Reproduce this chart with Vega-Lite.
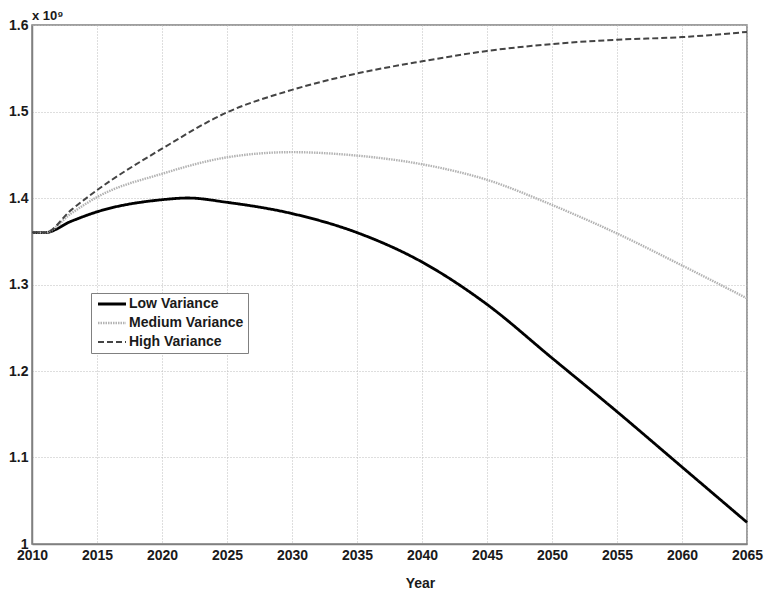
{
  "$schema": "https://vega.github.io/schema/vega-lite/v6.json",
  "width": 715,
  "height": 519,
  "autosize": {"type": "none"},
  "padding": {"left": 32, "top": 25, "right": 17, "bottom": 46},
  "background": "white",
  "config": {
    "font": "Liberation Sans",
    "view": {"stroke": "#808080", "strokeWidth": 1.5},
    "axis": {
      "labelFont": "Liberation Sans",
      "labelFontWeight": "bold",
      "labelFontSize": 14,
      "labelColor": "#1a1a1a",
      "titleFont": "Liberation Sans",
      "titleFontWeight": "bold",
      "titleFontSize": 14,
      "titleColor": "#1a1a1a",
      "domainColor": "#808080",
      "domainWidth": 1.5,
      "tickColor": "#808080",
      "tickSize": 0,
      "gridColor": "#bdbdbd",
      "gridDash": [1, 2],
      "gridWidth": 1
    }
  },
  "title": {
    "text": "x 10⁹",
    "anchor": "start",
    "frame": "group",
    "font": "Liberation Sans",
    "fontSize": 13,
    "fontWeight": "bold",
    "color": "#1a1a1a",
    "offset": -5
  },
  "data": {
    "values": [
      {"year": 2010, "series": "Low Variance", "population": 1.36},
      {"year": 2011, "series": "Low Variance", "population": 1.36},
      {"year": 2013, "series": "Low Variance", "population": 1.373},
      {"year": 2015, "series": "Low Variance", "population": 1.384},
      {"year": 2020, "series": "Low Variance", "population": 1.398},
      {"year": 2022, "series": "Low Variance", "population": 1.4},
      {"year": 2025, "series": "Low Variance", "population": 1.395},
      {"year": 2030, "series": "Low Variance", "population": 1.382},
      {"year": 2035, "series": "Low Variance", "population": 1.36},
      {"year": 2040, "series": "Low Variance", "population": 1.326},
      {"year": 2045, "series": "Low Variance", "population": 1.277},
      {"year": 2050, "series": "Low Variance", "population": 1.215},
      {"year": 2055, "series": "Low Variance", "population": 1.153},
      {"year": 2060, "series": "Low Variance", "population": 1.089},
      {"year": 2065, "series": "Low Variance", "population": 1.025},
      {"year": 2010, "series": "Medium Variance", "population": 1.36},
      {"year": 2011, "series": "Medium Variance", "population": 1.36},
      {"year": 2013, "series": "Medium Variance", "population": 1.382},
      {"year": 2015, "series": "Medium Variance", "population": 1.401},
      {"year": 2020, "series": "Medium Variance", "population": 1.428},
      {"year": 2025, "series": "Medium Variance", "population": 1.447},
      {"year": 2030, "series": "Medium Variance", "population": 1.453},
      {"year": 2035, "series": "Medium Variance", "population": 1.449},
      {"year": 2040, "series": "Medium Variance", "population": 1.439},
      {"year": 2045, "series": "Medium Variance", "population": 1.421},
      {"year": 2050, "series": "Medium Variance", "population": 1.392},
      {"year": 2055, "series": "Medium Variance", "population": 1.359},
      {"year": 2060, "series": "Medium Variance", "population": 1.322},
      {"year": 2065, "series": "Medium Variance", "population": 1.284},
      {"year": 2010, "series": "High Variance", "population": 1.36},
      {"year": 2011, "series": "High Variance", "population": 1.36},
      {"year": 2013, "series": "High Variance", "population": 1.386},
      {"year": 2015, "series": "High Variance", "population": 1.409},
      {"year": 2020, "series": "High Variance", "population": 1.457},
      {"year": 2025, "series": "High Variance", "population": 1.499},
      {"year": 2030, "series": "High Variance", "population": 1.525},
      {"year": 2035, "series": "High Variance", "population": 1.544},
      {"year": 2040, "series": "High Variance", "population": 1.558},
      {"year": 2045, "series": "High Variance", "population": 1.57},
      {"year": 2050, "series": "High Variance", "population": 1.578},
      {"year": 2055, "series": "High Variance", "population": 1.583},
      {"year": 2060, "series": "High Variance", "population": 1.586},
      {"year": 2065, "series": "High Variance", "population": 1.592}
    ]
  },
  "mark": {"type": "line", "interpolate": "monotone"},
  "encoding": {
    "x": {
      "field": "year",
      "type": "quantitative",
      "scale": {"domain": [2010, 2065], "nice": false, "zero": false},
      "axis": {
        "values": [2010, 2015, 2020, 2025, 2030, 2035, 2040, 2045, 2050, 2055, 2060, 2065],
        "format": "d",
        "title": "Year",
        "labelPadding": 4,
        "titleX": 388,
        "titleY": 43,
        "titleBaseline": "alphabetic",
        "labelFlush": false
      }
    },
    "y": {
      "field": "population",
      "type": "quantitative",
      "scale": {"domain": [1.0, 1.6], "nice": false, "zero": false},
      "axis": {
        "values": [1.0, 1.1, 1.2, 1.3, 1.4, 1.5, 1.6],
        "format": ".1~f",
        "title": null,
        "labelPadding": 4,
        "labelFlush": false
      }
    },
    "color": {
      "field": "series",
      "type": "nominal",
      "scale": {
        "domain": ["Low Variance", "Medium Variance", "High Variance"],
        "range": ["#000000", "#b3b3b3", "#444444"]
      },
      "legend": {
        "title": null,
        "orient": "none",
        "legendX": 59,
        "legendY": 268,
        "symbolType": "M-0.8,0H4.8",
        "symbolSize": 100,
        "symbolStrokeWidth": 2.5,
        "rowPadding": 5,
        "labelFont": "Liberation Sans",
        "labelFontWeight": "bold",
        "labelFontSize": 14,
        "labelColor": "#1a1a1a",
        "labelOffset": 20,
        "padding": 4,
        "strokeColor": "#808080",
        "fillColor": "white",
        "offset": 0
      }
    },
    "strokeDash": {
      "field": "series",
      "type": "nominal",
      "scale": {
        "domain": ["Low Variance", "Medium Variance", "High Variance"],
        "range": [[1, 0], [1.5, 1], [6, 3]]
      }
    },
    "strokeWidth": {
      "field": "series",
      "type": "nominal",
      "scale": {
        "domain": ["Low Variance", "Medium Variance", "High Variance"],
        "range": [2.8, 2, 2.6]
      },
      "legend": null
    }
  }
}
